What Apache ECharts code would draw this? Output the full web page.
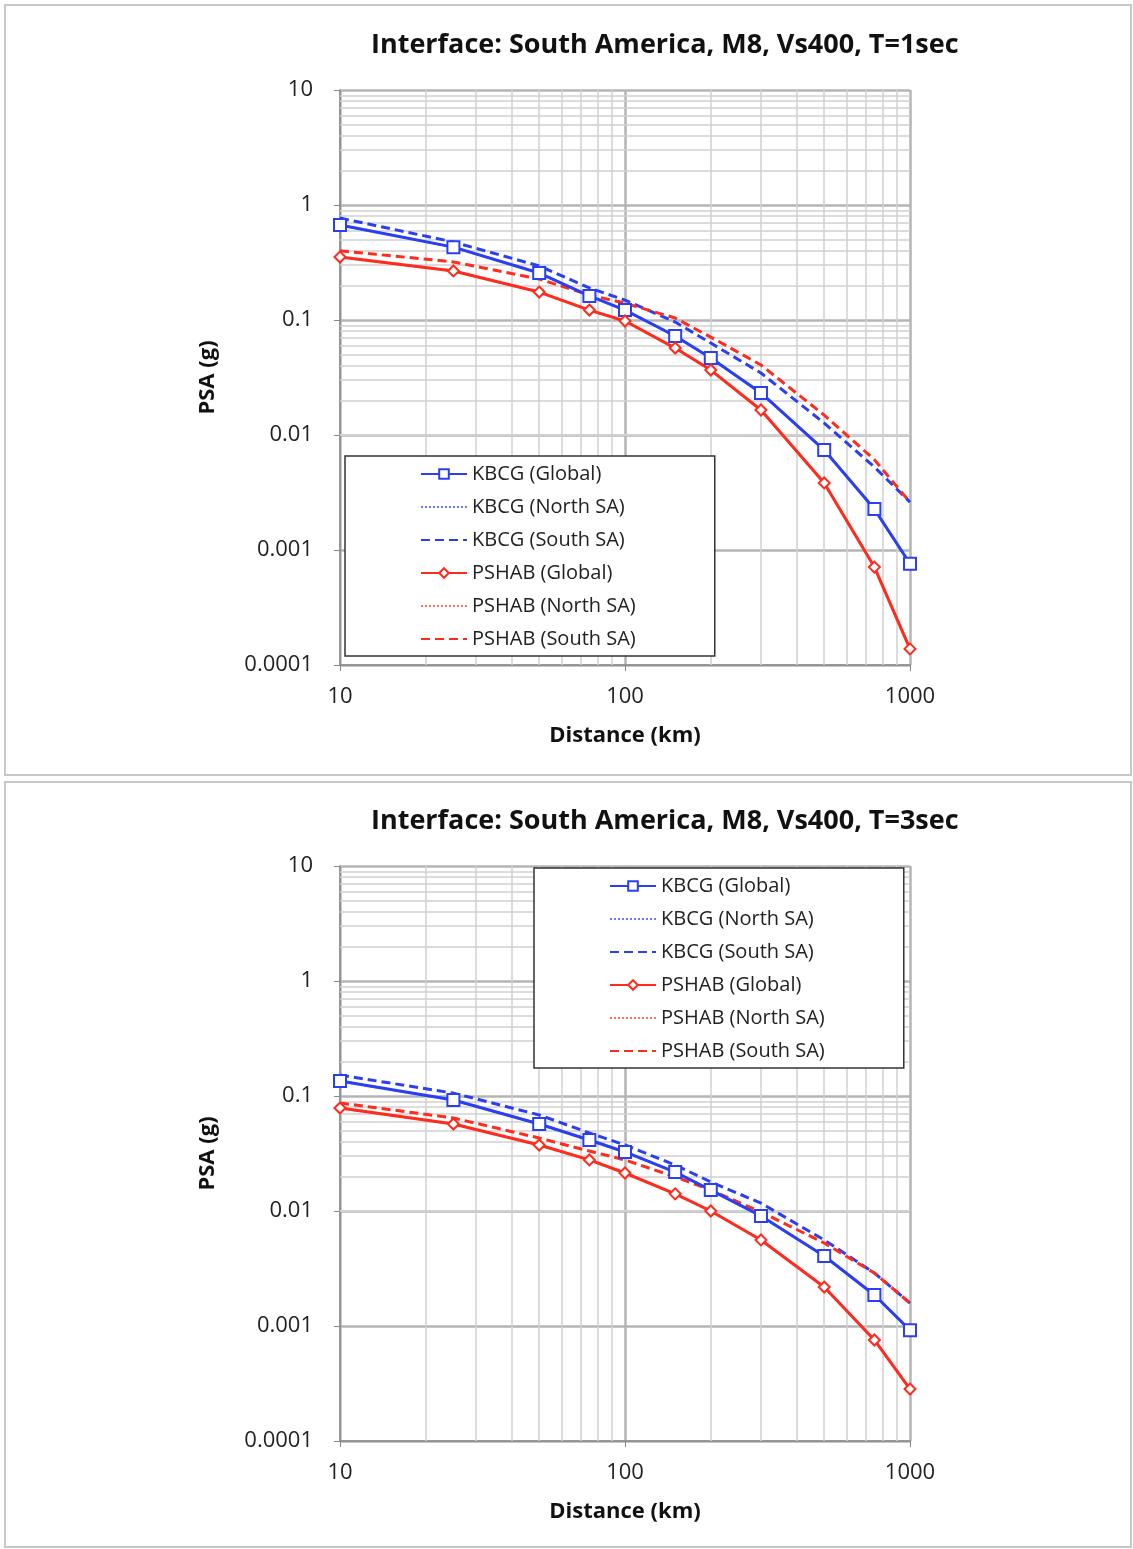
<!DOCTYPE html>
<html>
<head>
<meta charset="utf-8">
<script src="https://cdn.jsdelivr.net/npm/echarts@6/dist/echarts.min.js"></script>
<style>
  html, body { margin: 0; padding: 0; background: #fff; }
  #chart { width: 1133px; height: 1549px; }
</style>
</head>
<body>
<div id="chart"></div>
<script>
// distances (km) shared by both panels
const distances = [10, 25, 50, 75, 100, 150, 200, 300, 500, 750, 1000];

const legendNames = ['KBCG (Global)', 'KBCG (North SA)', 'KBCG (South SA)',
  'PSHAB (Global)', 'PSHAB (North SA)', 'PSHAB (South SA)'];

const panelTitles = ['Interface: South America, M8, Vs400, T=1sec',
  'Interface: South America, M8, Vs400, T=3sec'];

const yTickLabels = ['0.0001', '0.001', '0.01', '0.1', '1', '10'];
const xTickLabels = ['10', '100', '1000'];

// T = 1 sec, PSA (g)
const t1KbcgGlobal = [0.67, 0.43, 0.256, 0.162, 0.122, 0.0726, 0.0467, 0.0232, 0.0074, 0.00227, 0.00076];
const t1KbcgNorth = [0.67, 0.43, 0.256, 0.162, 0.122, 0.0726, 0.0467, 0.0232, 0.0074, 0.00227, 0.00076];
const t1KbcgSouth = [0.77, 0.477, 0.295, 0.19, 0.149, 0.096, 0.063, 0.0346, 0.0127, 0.00527, 0.00261];
const t1PshabGlobal = [0.353, 0.267, 0.175, 0.122, 0.098, 0.057, 0.0367, 0.0165, 0.00383, 0.00071, 0.000138];
const t1PshabNorth = [0.353, 0.267, 0.175, 0.122, 0.098, 0.057, 0.0367, 0.0165, 0.00383, 0.00071, 0.000138];
const t1PshabSouth = [0.40, 0.32, 0.227, 0.165, 0.14, 0.104, 0.071, 0.0406, 0.0149, 0.0061, 0.0026];

// T = 3 sec, PSA (g)
const t3KbcgGlobal = [0.135, 0.0923, 0.0571, 0.0414, 0.0326, 0.0218, 0.0152, 0.00906, 0.00406, 0.00186, 0.00092];
const t3KbcgNorth = [0.135, 0.0923, 0.0571, 0.0414, 0.0326, 0.0218, 0.0152, 0.00906, 0.00406, 0.00186, 0.00092];
const t3KbcgSouth = [0.152, 0.106, 0.0684, 0.0477, 0.0375, 0.0251, 0.0179, 0.0117, 0.0056, 0.00289, 0.00158];
const t3PshabGlobal = [0.0787, 0.0571, 0.0375, 0.0278, 0.0214, 0.0141, 0.0100, 0.0056, 0.00218, 0.000756, 0.000283];
const t3PshabNorth = [0.0787, 0.0571, 0.0375, 0.0278, 0.0214, 0.0141, 0.0100, 0.0056, 0.00218, 0.000756, 0.000283];
const t3PshabSouth = [0.0869, 0.0644, 0.0431, 0.0332, 0.0278, 0.0198, 0.0152, 0.0098, 0.00527, 0.00289, 0.00158];

// minor grid lines (log decades)
const minorX = [20, 30, 40, 50, 60, 70, 80, 90, 200, 300, 400, 500, 600, 700, 800, 900];
const minorY = [];
[0.0001, 0.001, 0.01, 0.1, 1].forEach(function (d) {
  for (let k = 2; k <= 9; k++) minorY.push(d * k);
});

const BLUE = '#2b3ff2';
const RED = '#ff2b1c';
const FONT = 'Open Sans';

const panelData = [
  [t1KbcgGlobal, t1KbcgNorth, t1KbcgSouth, t1PshabGlobal, t1PshabNorth, t1PshabSouth],
  [t3KbcgGlobal, t3KbcgNorth, t3KbcgSouth, t3PshabGlobal, t3PshabNorth, t3PshabSouth]
];

// style of each of the six curves
const styles = [
  { color: BLUE, type: 'solid', width: 3, symbol: 'emptyRect', size: 12, z: 5 },
  { color: '#6a78ff', type: 'dotted', width: 2.5, symbol: 'none', size: 0, z: 3 },
  { color: BLUE, type: [9, 5], width: 3, symbol: 'none', size: 0, z: 4 },
  { color: RED, type: 'solid', width: 3, symbol: 'emptyDiamond', size: 11, z: 5 },
  { color: '#ff7068', type: 'dotted', width: 2.5, symbol: 'none', size: 0, z: 3 },
  { color: RED, type: [9, 5], width: 3, symbol: 'none', size: 0, z: 4 }
];

const gridTops = [90, 866];
const legendPos = [[345, 456], [534, 868]];

let chart = echarts.init(document.getElementById('chart'));

let grids = [], xAxes = [], yAxes = [], titles = [], legends = [], series = [];

gridTops.forEach(function (top, gi) {
  grids.push({ left: 340, top: top, width: 570, height: 575 });

  titles.push({
    text: panelTitles[gi],
    left: 366,
    top: top - 63,
    textStyle: { fontFamily: FONT, fontSize: 27, fontWeight: 'bold', color: '#111' }
  });

  xAxes.push({
    gridIndex: gi,
    type: 'log',
    logBase: 10,
    min: 10,
    max: 1000,
    name: 'Distance (km)',
    nameLocation: 'middle',
    nameGap: 60,
    nameTextStyle: { fontFamily: FONT, fontSize: 22, fontWeight: 'bold', color: '#111' },
    axisLine: { onZero: false, lineStyle: { color: '#888', width: 1.5 } },
    axisTick: { show: true, length: 6, lineStyle: { color: '#888' } },
    axisLabel: {
      fontFamily: FONT, fontSize: 22, color: '#222', margin: 21,
      formatter: function (v) { return xTickLabels[Math.round(Math.log10(v)) - 1]; }
    },
    splitLine: { show: true, lineStyle: { color: '#b4b4b4', width: 2.5 } }
  });

  yAxes.push({
    gridIndex: gi,
    type: 'log',
    logBase: 10,
    min: 0.0001,
    max: 10,
    name: 'PSA (g)',
    nameLocation: 'middle',
    nameGap: 121,
    nameTextStyle: { fontFamily: FONT, fontSize: 22, fontWeight: 'bold', color: '#111' },
    axisLine: { onZero: false, lineStyle: { color: '#888', width: 1.5 } },
    axisTick: { show: true, length: 6, lineStyle: { color: '#888' } },
    axisLabel: {
      fontFamily: FONT, fontSize: 22, color: '#222', margin: 27,
      formatter: function (v) { return yTickLabels[Math.round(Math.log10(v)) + 4]; }
    },
    splitLine: { show: true, lineStyle: { color: '#b4b4b4', width: 2.5 } }
  });

  // minor grid lines drawn under the curves
  series.push({
    type: 'line',
    xAxisIndex: gi,
    yAxisIndex: gi,
    data: [],
    z: 1,
    silent: true,
    markLine: {
      silent: true,
      z: 1,
      symbol: 'none',
      animation: false,
      label: { show: false },
      emphasis: { disabled: true },
      lineStyle: { color: '#d0d0d0', width: 1.5, type: 'solid' },
      data: minorX.map(function (v) { return { xAxis: v }; })
        .concat(minorY.map(function (v) { return { yAxis: v }; }))
    }
  });

  legends.push({
    data: legendNames.map(function (n, i) {
      let item = { name: n };
      if (styles[i].symbol === 'none') {
        item.itemStyle = { color: 'rgba(0,0,0,0)', borderColor: 'rgba(0,0,0,0)', borderWidth: 0, opacity: 0 };
      }
      return item;
    }),
    orient: 'vertical',
    left: legendPos[gi][0],
    top: legendPos[gi][1],
    z: 20,
    padding: [7, 79, 6, 75],
    itemGap: 11,
    itemWidth: 46,
    itemHeight: 12,
    backgroundColor: '#fff',
    borderColor: '#333',
    borderWidth: 1.5,
    borderRadius: 0,
    selectedMode: false,
    textStyle: { fontFamily: FONT, fontSize: 20, color: '#222', lineHeight: 22 }
  });

  panelData[gi].forEach(function (vals, si) {
    let st = styles[si];
    series.push({
      name: legendNames[si],
      type: 'line',
      xAxisIndex: gi,
      yAxisIndex: gi,
      data: distances.map(function (d, i) { return [d, vals[i]]; }),
      symbol: st.symbol,
      symbolSize: st.size,
      showSymbol: st.symbol !== 'none',
      z: st.z,
      color: st.color,
      itemStyle: { color: st.color, borderWidth: 1.5 },
      lineStyle: { color: st.color, width: st.width, type: st.type },
      smooth: false
    });
  });
});

let option = {
  animation: false,
  backgroundColor: '#fff',
  title: titles,
  grid: grids,
  xAxis: xAxes,
  yAxis: yAxes,
  legend: legends,
  series: series,
  graphic: [
    { type: 'rect', shape: { x: 5, y: 5, width: 1126, height: 770 },
      style: { fill: 'none', stroke: '#c8c8c8', lineWidth: 2 }, z: -1 },
    { type: 'rect', shape: { x: 5, y: 782, width: 1126, height: 765 },
      style: { fill: 'none', stroke: '#c8c8c8', lineWidth: 2 }, z: -1 }
  ]
};

chart.setOption(option);
</script>
</body>
</html>
